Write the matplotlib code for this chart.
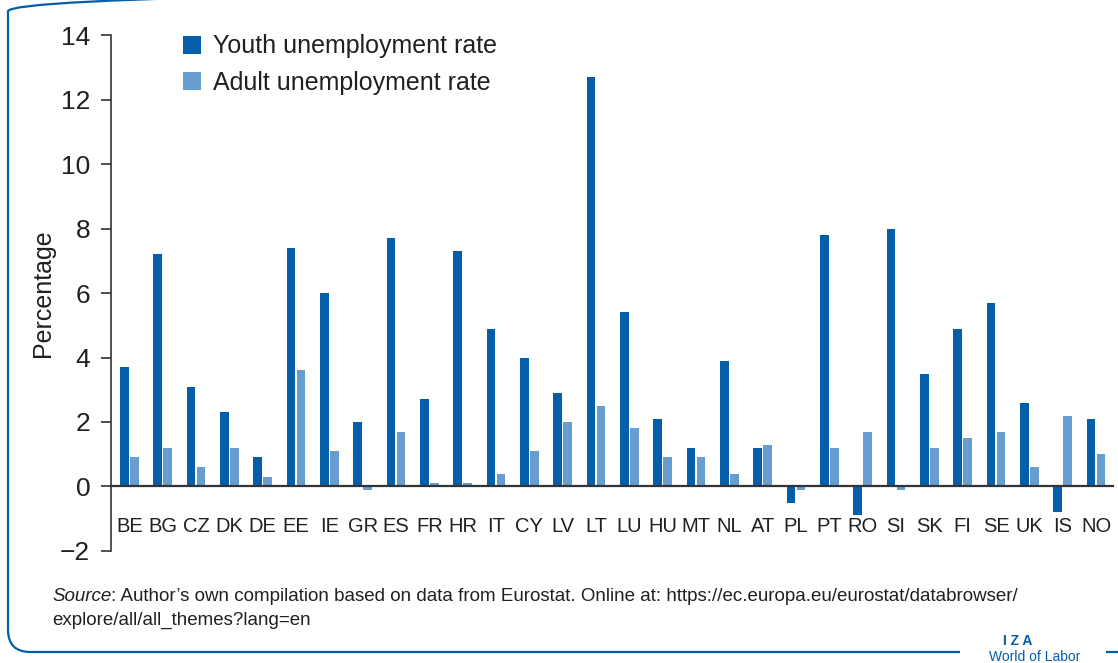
import matplotlib
matplotlib.use("Agg")
import matplotlib.pyplot as plt
import numpy as np
from matplotlib.patches import FancyBboxPatch, Rectangle

countries = ["BE", "BG", "CZ", "DK", "DE", "EE", "IE", "GR", "ES", "FR", "HR", "IT", "CY", "LV", "LT",
             "LU", "HU", "MT", "NL", "AT", "PL", "PT", "RO", "SI", "SK", "FI", "SE", "UK", "IS", "NO"]
youth = [3.7, 7.2, 3.1, 2.3, 0.9, 7.4, 6.0, 2.0, 7.7, 2.7, 7.3, 4.9, 4.0, 2.9, 12.7,
         5.4, 2.1, 1.2, 3.9, 1.2, -0.5, 7.8, -0.9, 8.0, 3.5, 4.9, 5.7, 2.6, -0.8, 2.1]
adult = [0.9, 1.2, 0.6, 1.2, 0.3, 3.6, 1.1, -0.1, 1.7, 0.1, 0.1, 0.4, 1.1, 2.0, 2.5,
         1.8, 0.9, 0.9, 0.4, 1.3, -0.1, 1.2, 1.7, -0.1, 1.2, 1.5, 1.7, 0.6, 2.2, 1.0]

YOUTH_C = "#045ea9"
ADULT_C = "#679ecf"
TXT = "#231f20"

plt.rcParams["font.family"] = ["Liberation Sans", "DejaVu Sans"]

fig = plt.figure(figsize=(11.18, 6.63), dpi=100)
ax = fig.add_axes([0.0993, 0.169, 0.896, 0.778])

x = np.arange(len(countries))
w = 0.26
ax.bar(x - w / 2 - 0.02, youth, w, color=YOUTH_C, label="Youth unemployment rate")
ax.bar(x + w / 2 + 0.02, adult, w, color=ADULT_C, label="Adult unemployment rate")

ax.set_xlim(-0.55, len(countries) - 0.5)
ax.set_ylim(-2, 14)
ax.set_yticks(range(-2, 15, 2))
ax.set_yticklabels(["\u22122"] + [str(v) for v in range(0, 15, 2)])
ax.tick_params(axis="y", labelsize=19, length=7, width=1.2, color="#333333", labelcolor=TXT, pad=8)

for s in ["top", "right"]:
    ax.spines[s].set_visible(False)
ax.spines["left"].set_color("#333333")
ax.spines["left"].set_linewidth(1.2)
ax.spines["bottom"].set_position(("data", 0))
ax.spines["bottom"].set_color("#333333")
ax.spines["bottom"].set_linewidth(1.6)
ax.set_xticks(x)
ax.set_xticklabels(countries)
ax.tick_params(axis="x", length=0, labelsize=14.5, labelcolor=TXT, pad=22)

ax.set_ylabel("Percentage", fontsize=18, color=TXT, labelpad=4)

ax.legend(loc="upper left", bbox_to_anchor=(0.049, 1.045), frameon=False, fontsize=18,
          handlelength=0.75, handleheight=0.75, handletextpad=0.45, labelspacing=0.5,
          labelcolor=TXT)

# rounded frame (only left and bottom edges fall inside the figure)
frame = FancyBboxPatch((8 / 1118, 11 / 663), 1.2, 1.0, boxstyle="round,pad=0,rounding_size=0.02",
                       transform=fig.transFigure, fill=False, edgecolor=YOUTH_C, linewidth=1.6,
                       mutation_aspect=1118 / 663)
fig.patches.append(frame)
fig.patches.append(Rectangle((960 / 1118, 0), 146 / 1118, 25 / 663, transform=fig.transFigure,
                             facecolor="white", edgecolor="none", zorder=3))

src = fig.text(52 / 1118, 1 - 601 / 663, "Source", fontsize=13.5, style="italic", color=TXT)
ax.annotate(": Author\u2019s own compilation based on data from Eurostat. Online at: "
            "https://ec.europa.eu/eurostat/databrowser/", xy=(1, 0), xycoords=src,
            va="bottom", ha="left", fontsize=13.5, color=TXT, annotation_clip=False)
fig.text(52 / 1118, 1 - 625 / 663, "explore/all/all_themes?lang=en", fontsize=13.5, color=TXT)

fig.text(1018 / 1118, 1 - 645 / 663, "I Z A", fontsize=10, color=YOUTH_C, weight="bold", ha="center")
fig.text(1035 / 1118, 2 / 663, "World of Labor", fontsize=10, color=YOUTH_C, ha="center")

fig.savefig("out.png", dpi=100)
